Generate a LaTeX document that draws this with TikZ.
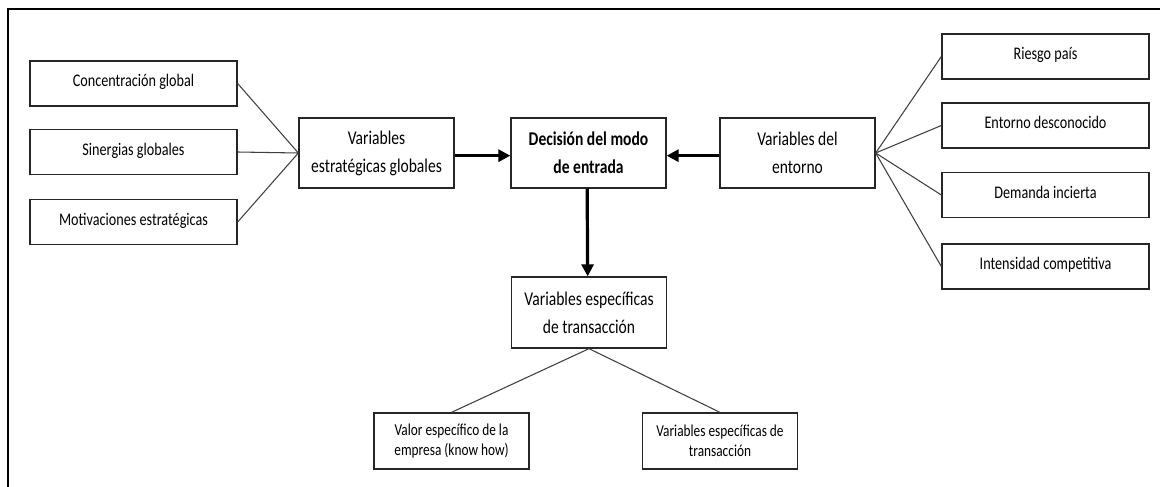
\documentclass[tikz,border=0pt]{standalone}
\usepackage{fontspec}
\setmainfont{Carlito}[FakeStretch=0.8]
\usetikzlibrary{arrows.meta}
\begin{document}
\begin{tikzpicture}[x=0.75pt,y=-0.75pt,
  box/.style 2 args={draw=black!85,line width=1pt,fill=white,inner sep=0pt,
    minimum width=0.75pt*#1,minimum height=0.75pt*#2},
  sidebox/.style={box={207}{45},font=\fontsize{13.3}{16}\selectfont,
    text height=10pt,text depth=5pt},
  midbox/.style={box={155}{70},align=center,
    font=\fontsize{14.6}{21}\selectfont},
  lowbox/.style={box={155}{56},align=center,
    font=\fontsize{12.5}{15}\selectfont},
  link/.style={draw=black!75,line width=0.8pt},
  flow/.style={draw=black,line width=2.4pt,-{Triangle[length=9pt,width=9pt]}},
  frame/.style={draw=black,line width=1.6pt}]
\useasboundingbox (0,0) rectangle (1160,486);

% open frame: top and left edges only
\coordinate (fbl) at (8,490);
\coordinate (ftl) at (8,9);
\coordinate (ftr) at (1162,9);
\draw[frame] (fbl) -- (ftl) -- (ftr);

% global strategic variables
\node[sidebox] (conc) at (133.5,83.5) {Concentración global};
\node[sidebox] (sin)  at (133.5,152)  {Sinergias globales};
\node[sidebox] (mot)  at (133.5,222)  {Motivaciones estratégicas};
\node[midbox]  (veg)  at (376.5,153)  {Variables\\estratégicas globales};

% decision
\node[midbox,font=\fontsize{14.6}{21}\selectfont\bfseries] (dec) at (588.5,153)
  {Decisión del modo\\de entrada};

% environment variables
\node[midbox] (ve) at (797.5,153) {Variables del\\entorno};
\node[sidebox] (r1) at (1045.5,56.5)  {Riesgo país};
\node[sidebox] (r2) at (1045.5,125.5) {Entorno desconocido};
\node[sidebox] (r3) at (1045.5,195)   {Demanda incierta};
\node[sidebox] (r4) at (1045.5,266.5) {Intensidad competitiva};

% transaction-specific variables
\node[midbox,box={155}{71}] (vet) at (589,312.5)
  {Variables específicas\\de transacción};
\node[lowbox] (b1) at (451.5,441) {Valor específico de la\\empresa (know how)};
\node[lowbox] (b2) at (720,441)
  {Variables específicas de\\transacción};

% thin links
\foreach \n in {conc,sin,mot} \draw[link] (\n.east) -- (veg.west);
\foreach \n in {r1,r2,r3,r4} \draw[link] (ve.east) -- (\n.west);
\draw[link] (vet.south) -- (b1.north);
\draw[link] (vet.south) -- (b2.north);

% main arrows
\draw[flow] ([yshift=-2pt]veg.east) -- ([yshift=-2pt]dec.west);
\draw[flow] ([yshift=-2pt]ve.west) -- ([yshift=-2pt]dec.east);
\draw[flow] ([xshift=-1pt]dec.south) -- ([xshift=-1pt]vet.north);
\end{tikzpicture}
\end{document}
